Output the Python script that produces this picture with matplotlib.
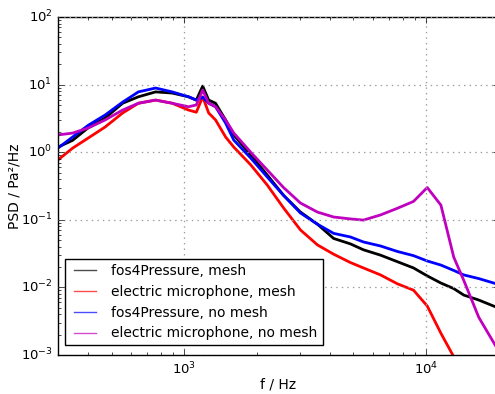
import numpy as np
import matplotlib
matplotlib.use('Agg')
import matplotlib.pyplot as plt
import matplotlib.lines as mlines

# %% Data (f in Hz, PSD in Pa^2/Hz)

freq = [300, 345, 400, 470, 555, 645, 760, 890, 1040, 1120, 1190, 1260,
        1345, 1480, 1600, 1880, 2200, 2570, 3020, 3550, 4140, 4860, 5500,
        6470, 7600, 8860, 10100, 11500, 13000, 14300, 16500, 19500]

fos_mesh = [1.19, 1.5, 2.3, 3.2, 5.3, 6.6, 7.8, 7.5, 6.6, 5.9, 9.5, 5.9,
            5.3, 3.0, 1.8, 0.91, 0.46, 0.23, 0.13, 0.086, 0.053, 0.044, 0.036,
            0.030, 0.024, 0.0194, 0.0148, 0.0116, 0.0096, 0.0077, 0.0065, 0.0051]

mic_mesh = [0.77, 1.15, 1.62, 2.36, 3.8, 5.3, 5.9, 5.3, 4.2, 3.9, 6.6, 3.8,
            3.0, 1.68, 1.19, 0.65, 0.327, 0.15, 0.0707, 0.0425, 0.031, 0.0233, 0.0194,
            0.0153, 0.0113, 0.0091, 0.0053, 0.0021, 0.00094, 0.0005, 0.0003, 0.0002]

fos_nomesh = [1.15, 1.68, 2.5, 3.55, 5.5, 7.8, 8.9, 7.8, 6.6, 5.9, 6.5, 5.3,
              4.7, 2.7, 1.51, 0.82, 0.43, 0.23, 0.126, 0.086, 0.063, 0.0557, 0.047,
              0.041, 0.034, 0.0295, 0.0246, 0.0214, 0.0178, 0.0153, 0.0135, 0.0113]

mic_nomesh = [1.8, 1.92, 2.28, 3.0, 4.2, 5.3, 5.9, 5.3, 4.7, 5.0, 8.3, 5.3,
              4.7, 3.0, 1.92, 1.0, 0.546, 0.30, 0.177, 0.13, 0.11, 0.103, 0.099,
              0.118, 0.148, 0.187, 0.30, 0.165, 0.028, 0.0127, 0.0036, 0.00131]

labels = ['fos4Pressure, mesh', 'electric microphone, mesh',
          'fos4Pressure, no mesh', 'electric microphone, no mesh']
colors = ['k', 'r', 'b', 'm']

# %% Plot

plt.style.use('classic')
plt.rcParams['font.family'] = ['DejaVu Sans']
fig = plt.figure(figsize=(4.95, 3.94), dpi=100, facecolor='white')
ax = fig.add_axes([58 / 495, 39 / 394, 441 / 495, 338 / 394])

series = [fos_mesh, mic_mesh, fos_nomesh, mic_nomesh]
for vals, c in zip(series, colors):
    ax.plot(freq, vals, color=c, lw=2.0)

ax.set_xscale('log')
ax.set_yscale('log')
plt.setp(ax, xlim=[300, 20000], ylim=[1e-3, 1e2])
ax.grid(True, which='major', color='0.6', ls=':', lw=0.9)
ax.tick_params(labelsize=9.5)
ax.set_xlabel('f / Hz', fontsize=10, labelpad=0)
ax.set_ylabel('PSD / Pa²/Hz', fontsize=10)
ax.yaxis.set_label_coords(-0.082, 0.5)

handles = [mlines.Line2D([], [], color=c, lw=1, alpha=0.7, label=l)
           for c, l in zip(colors, labels)]
ax.legend(handles=handles, loc='lower left', bbox_to_anchor=(0.0, 0.008),
          fontsize=10, frameon=True, fancybox=False, labelspacing=0.5,
          handlelength=2.2, borderpad=0.35)

plt.savefig('out.png', dpi=100, facecolor='white')
